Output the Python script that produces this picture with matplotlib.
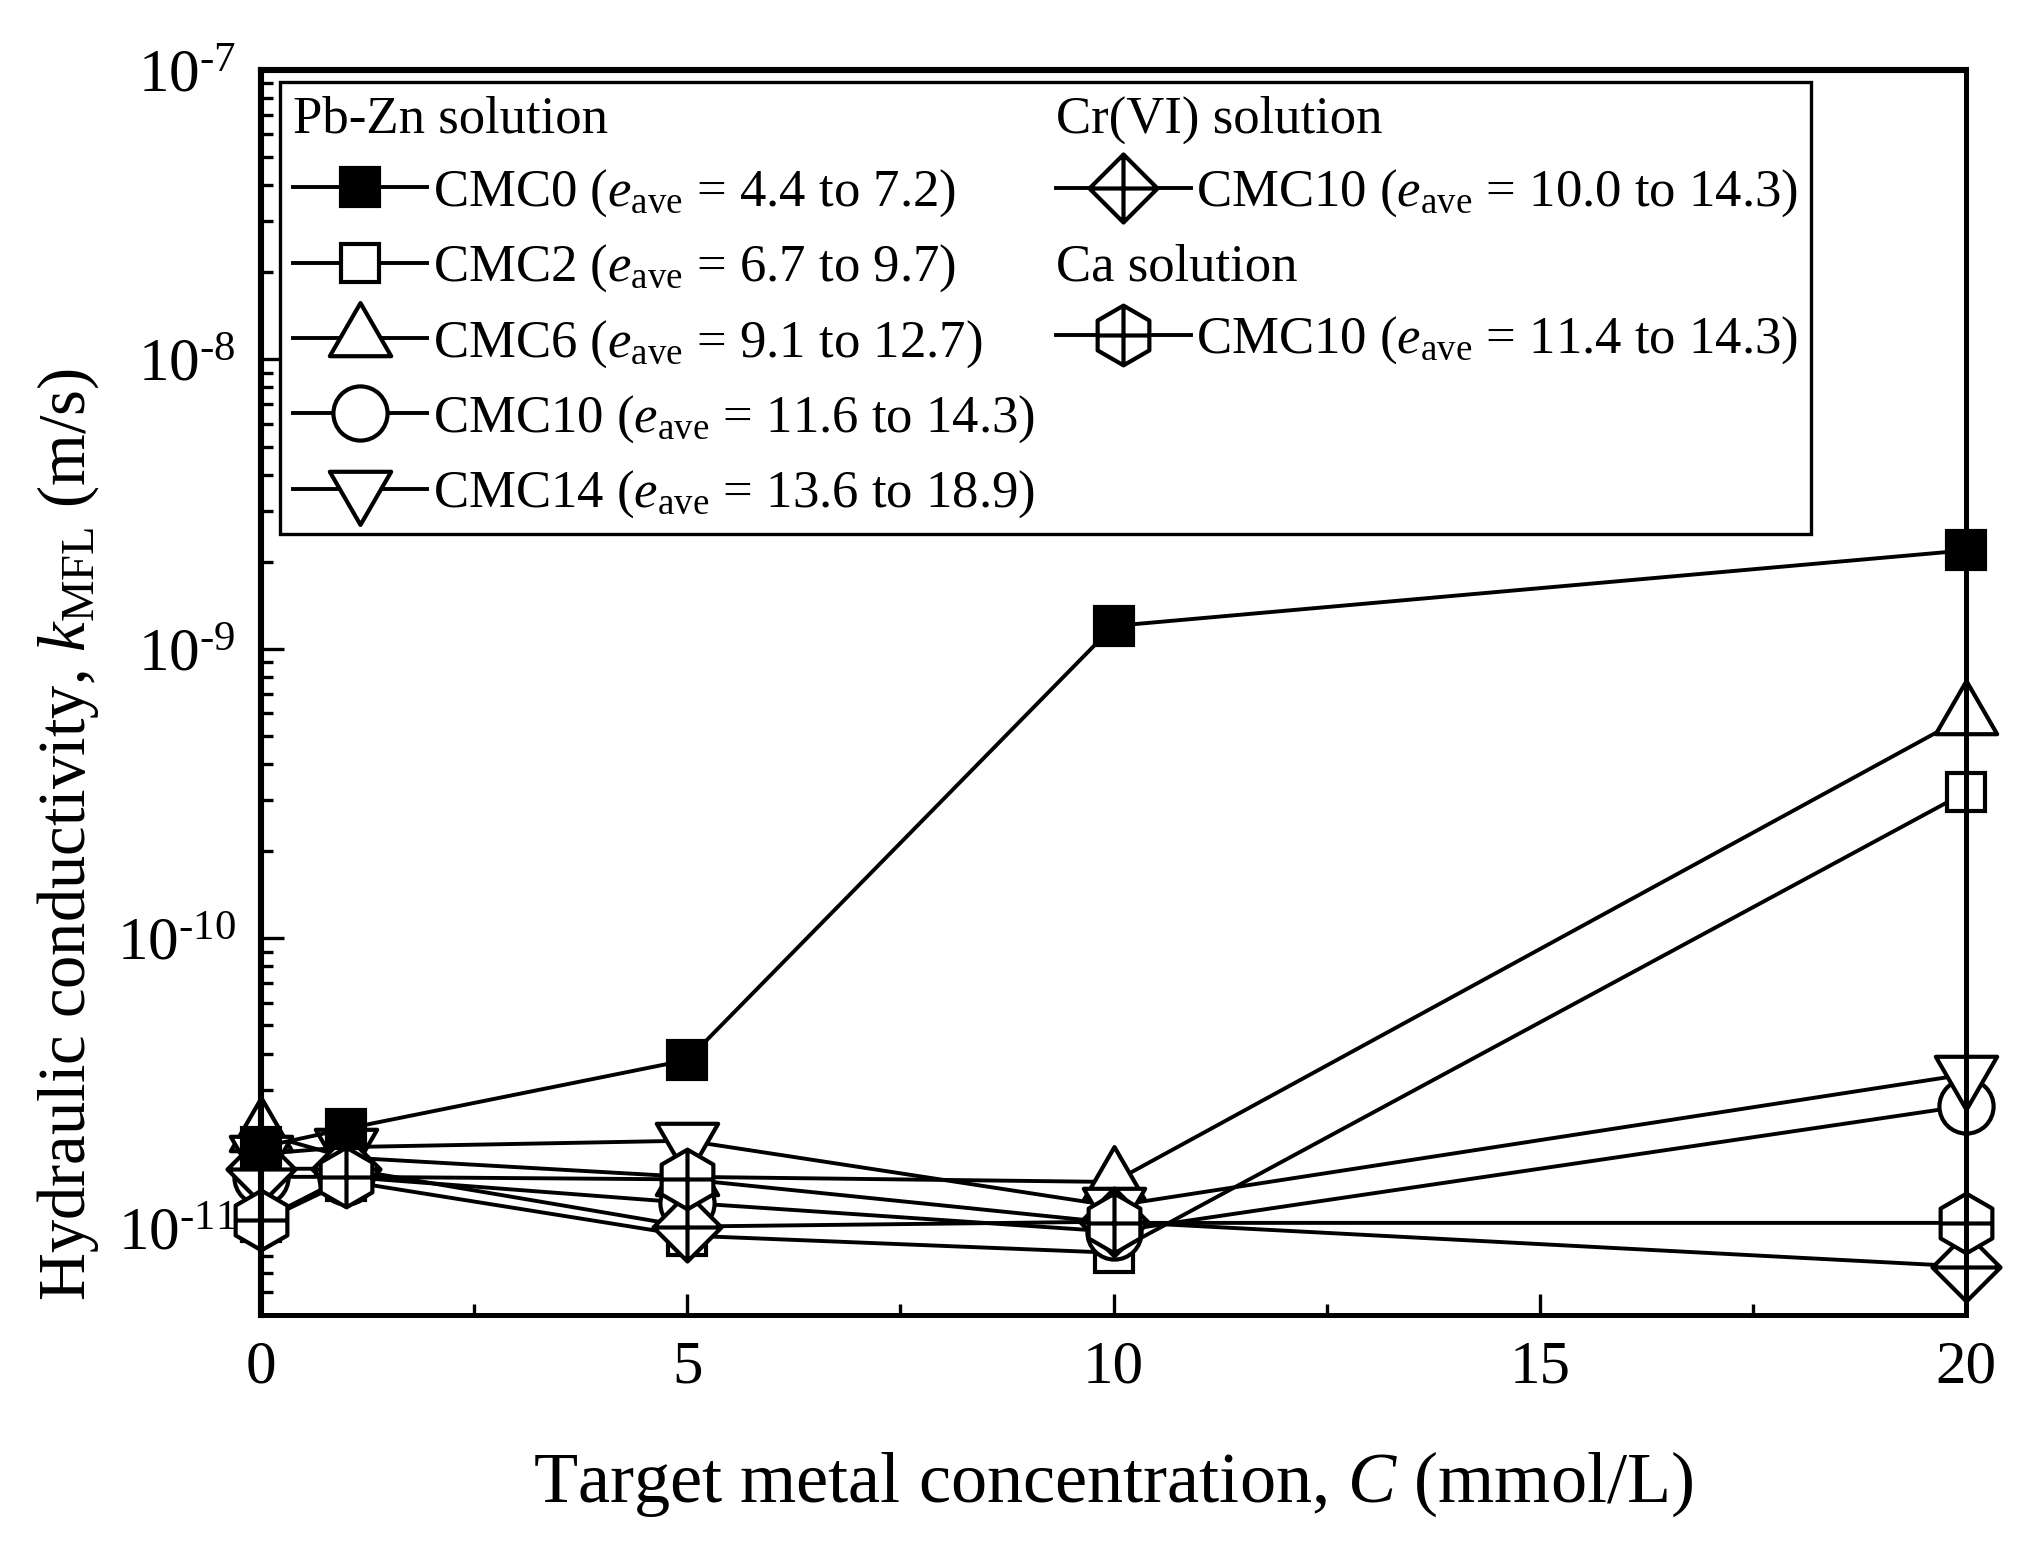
import numpy as np
import matplotlib
matplotlib.use('Agg')
import matplotlib.pyplot as plt
from matplotlib.path import Path
from matplotlib.lines import Line2D
from matplotlib.ticker import MultipleLocator, LogLocator, NullFormatter, FuncFormatter

# Times-like serif everywhere
plt.rcParams['font.family'] = 'Liberation Serif'
plt.rcParams['mathtext.fontset'] = 'custom'
plt.rcParams['mathtext.rm'] = 'Liberation Serif'
plt.rcParams['mathtext.it'] = 'Liberation Serif:italic'
plt.rcParams['mathtext.bf'] = 'Liberation Serif:bold'

# Data (m/s)
conc = [0, 1, 5, 10, 20]
k_cmc0 = [1.9e-11, 2.2e-11, 3.8e-11, 1.2e-9, 2.19e-9]
k_cmc2 = [1.05e-11, 1.45e-11, 9.4e-12, 8.2e-12, 3.2e-10]
k_cmc6 = [2.12e-11, 1.75e-11, 1.5e-11, 1.44e-11, 5.85e-10]
k_cmc10 = [1.5e-11, 1.5e-11, 1.22e-11, 9.7e-12, 2.64e-11]
k_cmc14 = [1.8e-11, 1.9e-11, 2.0e-11, 1.19e-11, 3.39e-11]
k_cr_cmc10 = [1.6e-11, 1.6e-11, 1.01e-11, 1.05e-11, 7.35e-12]
k_ca_cmc10 = [1.06e-11, 1.5e-11, 1.47e-11, 1.04e-11, 1.04e-11]

labels = [
    r'CMC0 ($e_\mathrm{ave}$ = 4.4 to 7.2)',
    r'CMC2 ($e_\mathrm{ave}$ = 6.7 to 9.7)',
    r'CMC6 ($e_\mathrm{ave}$ = 9.1 to 12.7)',
    r'CMC10 ($e_\mathrm{ave}$ = 11.6 to 14.3)',
    r'CMC14 ($e_\mathrm{ave}$ = 13.6 to 18.9)',
    r'CMC10 ($e_\mathrm{ave}$ = 10.0 to 14.3)',
    r'CMC10 ($e_\mathrm{ave}$ = 11.4 to 14.3)',
]
headers = ['Pb-Zn solution', 'Cr(VI) solution', 'Ca solution']

# custom marker shapes (Origin style)
M, L, C = Path.MOVETO, Path.LINETO, Path.CLOSEPOLY
tri_up = Path([(0, 1), (-0.866, -0.5), (0.866, -0.5), (0, 1)], [M, L, L, C])
tri_down = Path([(0, -1), (-0.866, 0.5), (0.866, 0.5), (0, -1)], [M, L, L, C])
diamond_cross = Path([(0, 1), (1, 0), (0, -1), (-1, 0), (0, 1),
                      (0, 1), (0, -1), (-1, 0), (1, 0)],
                     [M, L, L, L, C, M, L, M, L])
hx = 0.866
hex_cross = Path([(0, 1), (-hx, 0.5), (-hx, -0.5), (0, -1), (hx, -0.5), (hx, 0.5), (0, 1),
                  (0, 1), (0, -1), (-hx, 0), (hx, 0)],
                 [M, L, L, L, L, L, C, M, L, M, L])

series = [
    (k_cmc2, 's', 14, 'white'),
    (k_cmc6, tri_up, 25.5, 'white'),
    (k_cmc10, 'o', 19.5, 'white'),
    (k_cmc14, tri_down, 25.5, 'white'),
    (k_cr_cmc10, diamond_cross, 24.5, 'white'),
    (k_ca_cmc10, hex_cross, 21.5, 'white'),
    (k_cmc0, 's', 14, 'black'),
]

fig = plt.figure(figsize=(10.17, 7.725), dpi=200)
ax = fig.add_axes([0.1283, 0.1489, 0.9666 - 0.1283, 0.9547 - 0.1489])

handles = {}
for vals, mk, ms, fc in series:
    ln, = ax.plot(conc, vals, color='black', lw=1.4, marker=mk, markersize=ms,
                  markerfacecolor=fc, markeredgecolor='black', markeredgewidth=1.5,
                  clip_on=False, zorder=2)
    handles[id(vals)] = ln

ax.set_yscale('log')
ax.set_xlim(0, 20)
ax.set_ylim(5e-12, 1e-7)

ax.xaxis.set_major_locator(MultipleLocator(5))
ax.xaxis.set_minor_locator(MultipleLocator(2.5))
ax.yaxis.set_major_locator(LogLocator(base=10, numticks=10))
ax.yaxis.set_minor_locator(LogLocator(base=10, subs=np.arange(2, 10), numticks=20))
ax.yaxis.set_minor_formatter(NullFormatter())
ax.yaxis.set_major_formatter(FuncFormatter(
    lambda v, p: r'$\mathdefault{10^{\text{-}%d}}$' % round(-np.log10(v))))

ax.tick_params(which='both', direction='in', top=False, right=False, width=1.2)
ax.tick_params(axis='x', which='major', length=7.5, labelsize=22, pad=9)
ax.tick_params(axis='x', which='minor', length=3.8)
ax.tick_params(axis='y', which='major', length=8.3, labelsize=22, pad=9)
ax.tick_params(axis='y', which='minor', length=4.3)
ax.yaxis.set_zorder(1.5)

for side in ['left', 'top']:
    ax.spines[side].set_linewidth(2.2)
for side in ['bottom', 'right']:
    ax.spines[side].set_linewidth(1.8)

ax.set_xlabel(r'Target metal concentration, $C$ (mmol/L)', fontsize=26)
ax.xaxis.set_label_coords(0.5, -0.108)
ax.set_ylabel(r'Hydraulic conductivity, $k_\mathrm{MFL}$ (m/s)', fontsize=24)
ax.yaxis.set_label_coords(-0.094, 0.386)

# legend: two columns with group headers
blank = Line2D([], [], linestyle='none', marker=None)
leg_handles = [blank, handles[id(k_cmc0)], handles[id(k_cmc2)], handles[id(k_cmc6)],
               handles[id(k_cmc10)], handles[id(k_cmc14)],
               blank, handles[id(k_cr_cmc10)], blank, handles[id(k_ca_cmc10)], blank, blank]
leg_labels = [headers[0]] + labels[:5] + [headers[1], labels[5], headers[2], labels[6], '', '']
leg = ax.legend(leg_handles, leg_labels, ncol=2, loc='upper left',
                bbox_to_anchor=(0.011, 0.990), borderaxespad=0, fontsize=19,
                numpoints=1, handlelength=2.55, handletextpad=0.1, columnspacing=0.4,
                labelspacing=0.45, borderpad=0.25, fancybox=False, framealpha=1,
                edgecolor='black')
leg.get_frame().set_linewidth(1.2)
for col in leg._legend_handle_box.get_children():
    for row in col.get_children():
        da, ta = row.get_children()
        if ta.get_text() in headers:
            da.set_width(0)
            row.sep = 0

fig.savefig('out.png', dpi=200, facecolor='white')
